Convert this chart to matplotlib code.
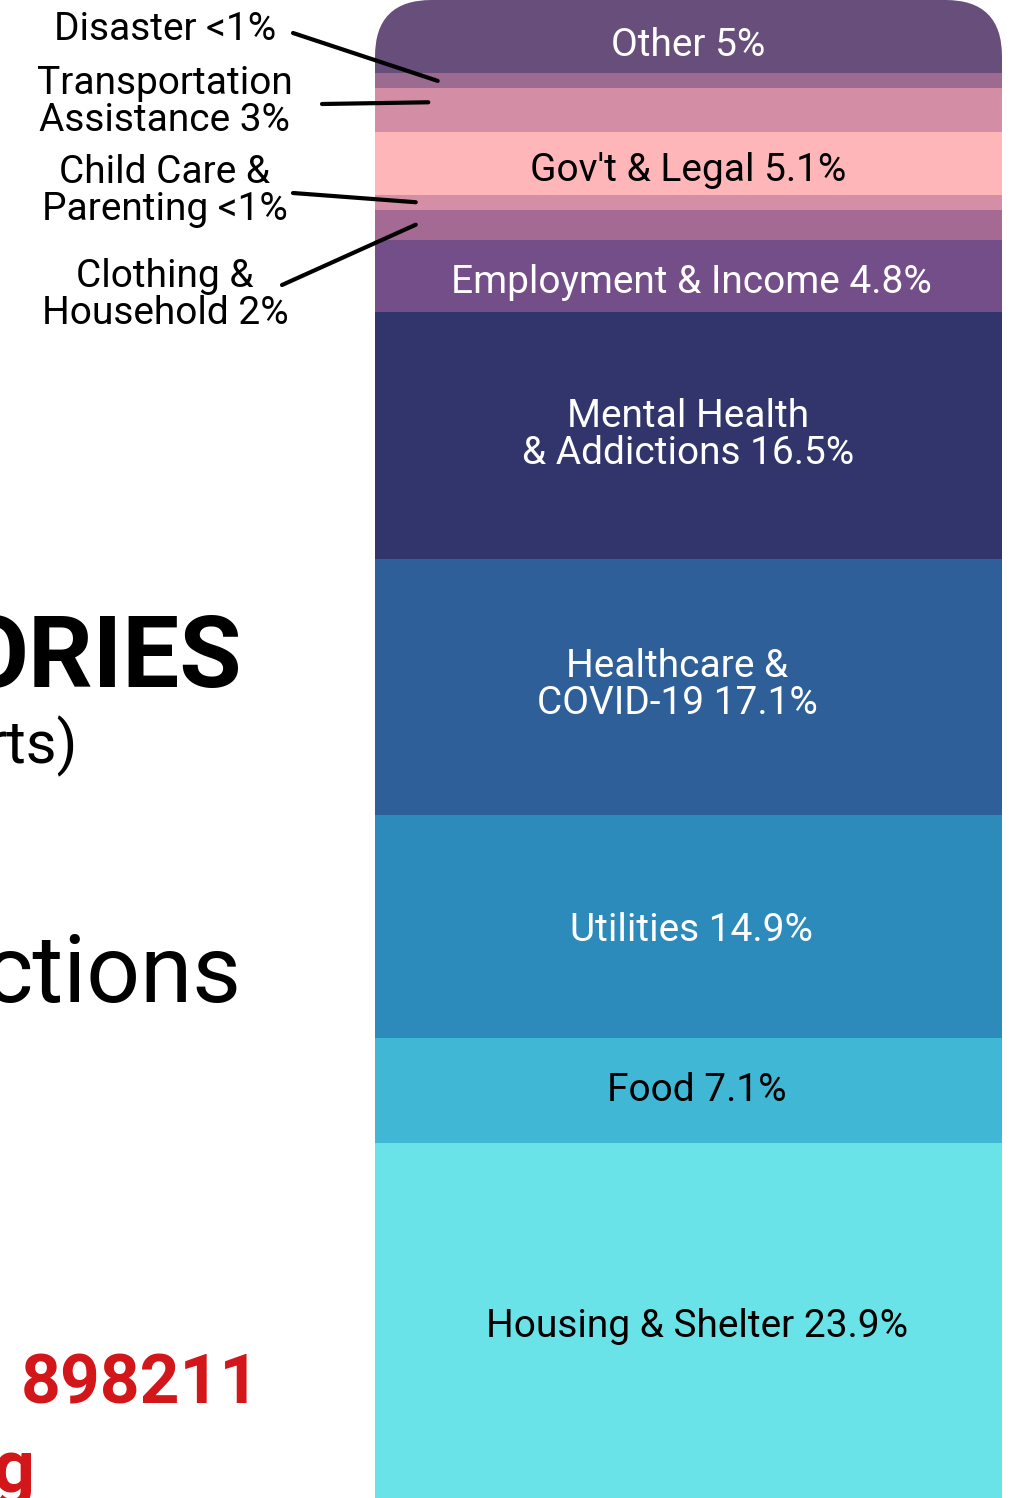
import matplotlib
matplotlib.use("Agg")
import matplotlib.pyplot as plt
from matplotlib.patches import FancyBboxPatch, ConnectionPatch

plt.rcParams["font.family"] = ["Roboto", "DejaVu Sans"]

# data, bottom to top of the stack
categories = ["Housing & Shelter", "Food", "Utilities", "Healthcare &\nCOVID-19",
              "Mental Health\n& Addictions", "Employment & Income",
              "Clothing &\nHousehold", "Child Care &\nParenting", "Gov't & Legal",
              "Transportation\nAssistance", "Disaster", "Other"]
shares = [23.7, 7.0, 14.9, 17.1, 16.5, 4.8, 2.0, 1.0, 4.2, 2.9, 1.0, 4.9]
pct_labels = ["23.9%", "7.1%", "14.9%", "17.1%", "16.5%", "4.8%",
              "2%", "<1%", "5.1%", "3%", "<1%", "5%"]
colors = ["#6ae3e8", "#41b7d6", "#2d8bbb", "#2e5f99", "#32356b", "#744e88",
          "#a46a93", "#d48ea6", "#ffb6b9", "#d38ea6", "#9c6b8f", "#674e7b"]
text_colors = ["black", "black", "white", "white", "white", "white",
               None, None, "black", None, None, "white"]
outside = ["Clothing &\nHousehold", "Child Care &\nParenting",
           "Transportation\nAssistance", "Disaster"]

W, H = 1012, 1498
fig = plt.figure(figsize=(W / 100, H / 100), dpi=100)

# background axes in pixel units for the side texts
ax0 = fig.add_axes([0, 0, 1, 1])
ax0.set_xlim(0, W)
ax0.set_ylim(H, 0)
ax0.axis("off")

ax = fig.add_axes([375 / W, 0, 627 / W, 1])
ax.set_xlim(-0.5, 0.5)
ax.set_ylim(0, 100)
ax.axis("off")

clip = FancyBboxPatch((0, -0.1), 1, 1.1, boxstyle="round,pad=0,rounding_size=0.09",
                      mutation_aspect=627 / H, transform=ax.transAxes,
                      facecolor="none", edgecolor="none")
ax.add_patch(clip)

# small nudges (points) so labels sit like the original
nudge = {"Other": (0, -6), "Gov't & Legal": (0, -5), "Employment & Income": (2, -5),
         "Utilities": (2, -3), "Housing & Shelter": (6, -4),
         "Healthcare &\nCOVID-19": (-8, 1), "Food": (6, 0)}

bottom = 0
seg = {}
for cat, v, c, lab, tc in zip(categories, shares, colors, pct_labels, text_colors):
    bars = ax.bar(0, v, bottom=bottom, width=1, color=c, linewidth=0)
    for b in bars:
        b.set_clip_path(clip)
    seg[cat] = (bottom, v)
    if cat not in outside:
        ax.annotate(f"{cat} {lab}", xy=(0, bottom + v / 2), xytext=nudge.get(cat, (0, 0)),
                    textcoords="offset points", ha="center", va="center",
                    color=tc, fontsize=28, linespacing=1.0)
    bottom += v

# labels for the thin segments, with leader lines
# (text x, text y, line start x, line start y, line end x in bar, anchor in segment)
side_pos = {"Disaster": (165, 30, 293, 33, 0.1, 0.5),
            "Transportation\nAssistance": (165, 102, 322, 104, 0.085, 0.68),
            "Child Care &\nParenting": (165, 191, 293, 193, 0.065, 0.5),
            "Clothing &\nHousehold": (165, 295, 282, 285, 0.065, 0.5)}
for cat, lab in zip(categories, pct_labels):
    if cat not in side_pos:
        continue
    tx, ty, lx, ly, xe, fr = side_pos[cat]
    b0, v = seg[cat]
    ax0.text(tx, ty, f"{cat} {lab}", ha="center", va="center", fontsize=28,
             linespacing=1.0)
    con = ConnectionPatch(xyA=(lx, ly), coordsA=ax0.transData,
                          xyB=(-0.5 + xe, b0 + v * fr), coordsB=ax.transData,
                          color="black", linewidth=3.0)
    fig.add_artist(con)

# text running in from the left of the page
ax0.text(242, 660, "ORIES", ha="right", va="center", fontsize=73, fontweight="bold")
ax0.text(78, 746, "rts)", ha="right", va="center", fontsize=43)
ax0.text(242, 976, "ctions", ha="right", va="center", fontsize=68)
ax0.text(260, 1385, "898211", ha="right", va="center", fontsize=50,
         fontweight="bold", color="#d2161a")
ax0.text(35, 1472, "g", ha="right", va="center", fontsize=53,
         fontweight="bold", color="#d2161a")

fig.savefig("out.png", dpi=100)
